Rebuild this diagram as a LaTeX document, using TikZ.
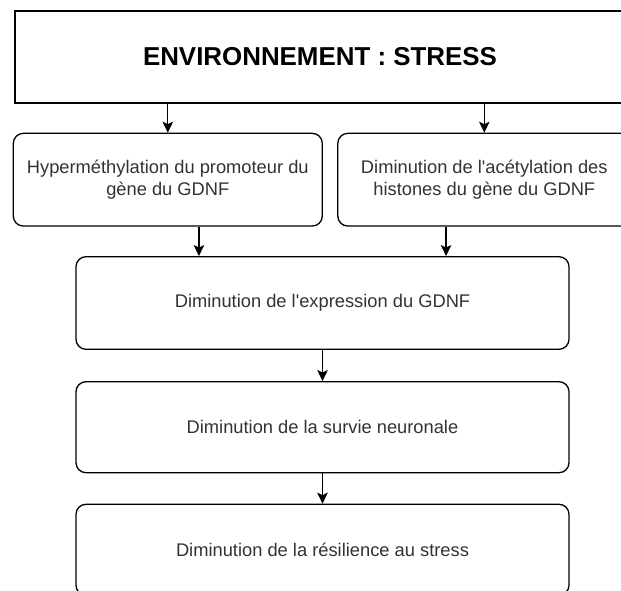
\documentclass[tikz,border=0pt]{standalone}
\usepackage{fontspec}
% no TeX ligature mapping, so ' stays a straight apostrophe
\setmainfont{Liberation Sans}[Ligatures=TeXOff]
\usetikzlibrary{arrows.meta,calc}

\tikzset{
  flowbox/.style={draw=black, line width=1.3pt, rounded corners=10pt, fill=white,
    inner sep=0pt, align=center, text=black!80,
    font=\fontsize{18.3}{21.5}\selectfont},
  titlebox/.style={draw=black, line width=1.3pt, fill=white, inner sep=0pt,
    align=center, text=black,
    font=\fontsize{25.9}{30}\selectfont\bfseries},
  flowarrow/.style={draw=black, line width=1.3pt,
    -{Stealth[length=11pt, width=10.5pt, inset=2.5pt]}}
}

\begin{document}
\begin{tikzpicture}[x=1pt, y=-1pt]
  \clip (0,0) rectangle (621,591);
  \fill[white] (0,0) rectangle (621,591);

  % cause
  \node[titlebox, minimum width=610pt, minimum height=92pt] (env) at (320,57)
    {ENVIRONNEMENT : STRESS};

  % epigenetic changes
  \node[flowbox, minimum width=309pt, minimum height=92.7pt] (meth) at (167.8,179.7)
    {Hyperméthylation du promoteur du\\gène du GDNF};
  \node[flowbox, minimum width=293pt, minimum height=92.7pt] (acet) at (484.3,179.7)
    {Diminution de l'acétylation des\\histones du gène du GDNF};

  % consequences
  \node[flowbox, minimum width=493pt, minimum height=92.6pt] (expr) at (322.5,303)
    {Diminution de l'expression du GDNF};
  \node[flowbox, minimum width=493pt, minimum height=91pt] (surv) at (322.5,427.2)
    {Diminution de la survie neuronale};
  \node[flowbox, minimum width=493pt, minimum height=91pt] (resil) at (322.5,549.8)
    {Diminution de la résilience au stress};

  % entry points on the expression box
  \coordinate (exprL) at ($(expr.north west)!0.25!(expr.north east)$);
  \coordinate (exprR) at ($(expr.north west)!0.75!(expr.north east)$);

  % connectors
  \draw[flowarrow] (meth.north |- env.south) -- (meth.north);
  \draw[flowarrow] (acet.north |- env.south) -- (acet.north);
  \draw[flowarrow] (exprL |- meth.south) -- (exprL);
  \draw[flowarrow] (exprR |- acet.south) -- (exprR);
  \draw[flowarrow] (expr.south) -- (surv.north);
  \draw[flowarrow] (surv.south) -- (resil.north);
\end{tikzpicture}
\end{document}
